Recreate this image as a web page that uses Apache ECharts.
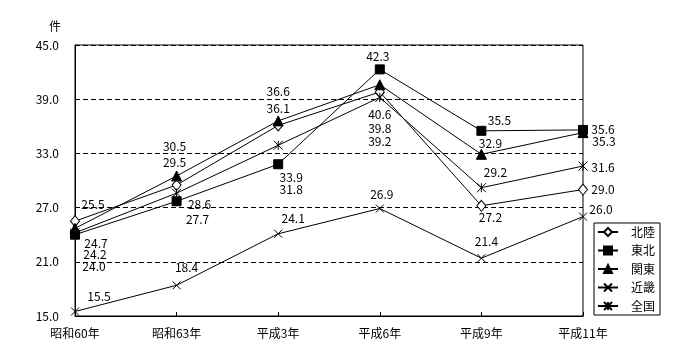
<!DOCTYPE html>
<html>
<head>
<meta charset="utf-8">
<script src="https://cdn.jsdelivr.net/npm/echarts@6/dist/echarts.min.js"></script>
<style>html,body{margin:0;padding:0;background:#fff;}#c{width:700px;height:360px;}</style>
</head>
<body>
<div id="c"></div>
<script>
var categories = ['昭和60年', '昭和63年', '平成3年', '平成6年', '平成9年', '平成11年'];
var hokuriku = [25.5, 29.5, 36.1, 39.8, 27.2, 29.0];
var tohoku   = [24.0, 27.7, 31.8, 42.3, 35.5, 35.6];
var kanto    = [24.7, 30.5, 36.6, 40.6, 32.9, 35.3];
var kinki    = [15.5, 18.4, 24.1, 26.9, 21.4, 26.0];
var zenkoku  = [24.2, 28.6, 33.9, 39.2, 29.2, 31.6];
var yTicks = [15, 21, 27, 33, 39, 45];

// label offsets (px) relative to each point
var offHokuriku = [[18,-17],[-2,-23],[0,-17],[0,36],[9,12],[20,0]];
var offTohoku   = [[19,32],[21,18],[13,25],[-2,-13],[18,-10],[20,0]];
var offKanto    = [[21,15],[-2,-30],[0,-29],[0,30],[9,-11],[21,9]];
var offKinki    = [[24,-15],[10,-18],[15,-15],[2,-14],[5,-17],[18,-7]];
var offZenkoku  = [[20,22],[23,11],[13,32],[0,44],[14,-15],[20,1]];

var FONT = '"Noto Sans CJK JP", sans-serif';

function mkData(vals, offs) {
  return vals.map(function (v, i) {
    return {
      value: v,
      label: {
        show: true, position: 'inside', offset: offs[i],
        align: 'center', verticalAlign: 'middle',
        formatter: v.toFixed(1), color: '#000', fontSize: 12, fontFamily: FONT
      }
    };
  });
}

function mkSeries(name, vals, offs, symbol, size, fill) {
  return {
    name: name, type: 'line', data: mkData(vals, offs),
    symbol: symbol, symbolSize: size, showAllSymbol: true,
    lineStyle: { color: '#000', width: 1 },
    itemStyle: { color: fill, borderColor: '#000', borderWidth: 1 },
    emphasis: { disabled: true },
    animation: false, z: 3
  };
}

var chart = echarts.init(document.getElementById('c'), null, { renderer: 'canvas' });
chart.setOption({
  animation: false,
  backgroundColor: '#fff',
  grid: { left: 75, right: 117, top: 45, bottom: 44, show: true, borderColor: '#000', borderWidth: 1, backgroundColor: 'transparent' },
  graphic: [{ type: 'text', left: 49, top: 20, style: { text: '件', fill: '#000', font: '12px ' + FONT } }],
  xAxis: {
    type: 'category', data: categories, boundaryGap: false,
    axisLine: { lineStyle: { color: '#000', width: 1 } },
    axisTick: { show: true, inside: true, length: 4, lineStyle: { color: '#000' } },
    axisLabel: { color: '#000', fontSize: 12, fontFamily: FONT, margin: 11 },
    splitLine: { show: false }
  },
  yAxis: {
    type: 'value', min: yTicks[0], max: yTicks[yTicks.length - 1], interval: yTicks[1] - yTicks[0],
    axisLine: { show: true, lineStyle: { color: '#000', width: 1 } },
    axisTick: { show: false },
    axisLabel: { color: '#000', fontSize: 12, fontFamily: FONT, margin: 16, formatter: function (v) { return v.toFixed(1); } },
    splitLine: { show: true, lineStyle: { color: '#000', type: [5, 3], width: 1 } }
  },
  legend: {
    orient: 'vertical', left: 594, top: 223,
    itemWidth: 20, itemHeight: 10, itemGap: 6.5,
    padding: [3, 5, 3, 3],
    borderColor: '#000', borderWidth: 1, backgroundColor: '#fff',
    textStyle: { color: '#000', fontSize: 12, fontFamily: FONT, padding: [0, 0, 0, 8] },
    data: ['北陸', '東北', '関東', '近畿', '全国']
  },
  series: [
    mkSeries('北陸', hokuriku, offHokuriku, 'diamond', [9, 11], '#fff'),
    mkSeries('東北', tohoku, offTohoku, 'rect', 9, '#000'),
    mkSeries('関東', kanto, offKanto, 'triangle', 10, '#000'),
    mkSeries('近畿', kinki, offKinki, 'path://M0,0L10,10M10,0L0,10', 8, '#000'),
    mkSeries('全国', zenkoku, offZenkoku, 'path://M0,0L10,10M10,0L0,10M5,0L5,10', 9, '#000')
  ]
});
</script>
</body>
</html>
